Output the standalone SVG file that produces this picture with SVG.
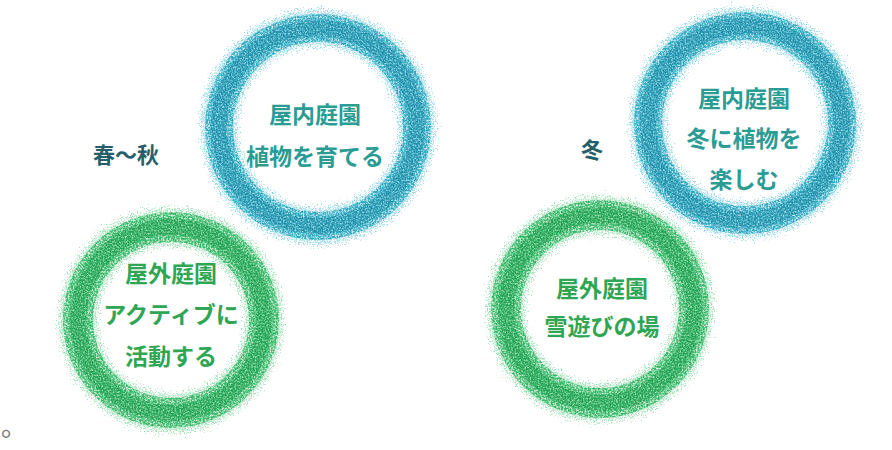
<svg xmlns="http://www.w3.org/2000/svg" width="892" height="450" viewBox="0 0 892 450">
<defs>
<filter id="soft" x="-20%" y="-20%" width="140%" height="140%">
<feTurbulence type="fractalNoise" baseFrequency="0.7" numOctaves="2" seed="4" result="n"/>
<feDisplacementMap in="SourceGraphic" in2="n" scale="22" xChannelSelector="R" yChannelSelector="G" result="d"/>
<feTurbulence type="fractalNoise" baseFrequency="0.8" numOctaves="2" seed="11" result="n2"/>
<feColorMatrix in="n2" type="matrix" values="0 0 0 0 0  0 0 0 0 0  0 0 0 0 0  2.2 0 0 0 -0.6" result="m"/>
<feComposite in="d" in2="m" operator="in"/>
</filter>
<filter id="speck" x="-20%" y="-20%" width="140%" height="140%">
<feTurbulence type="fractalNoise" baseFrequency="1.0" numOctaves="2" seed="7" result="n"/>
<feDisplacementMap in="SourceGraphic" in2="n" scale="14" xChannelSelector="G" yChannelSelector="R" result="d"/>
<feTurbulence type="fractalNoise" baseFrequency="0.6" numOctaves="3" seed="23" result="n2"/>
<feColorMatrix in="n2" type="matrix" values="0 0 0 0 0  0 0 0 0 0  0 0 0 0 0  3 0 0 0 -0.9" result="m"/>
<feComposite in="d" in2="m" operator="in"/>
</filter>
<filter id="core" x="-20%" y="-20%" width="140%" height="140%">
<feTurbulence type="fractalNoise" baseFrequency="0.9" numOctaves="2" seed="2" result="n"/>
<feDisplacementMap in="SourceGraphic" in2="n" scale="12" xChannelSelector="R" yChannelSelector="G"/>
<feGaussianBlur stdDeviation="0.7"/>
</filter>
</defs>
<style>
.t{font-family:"Noto Sans CJK JP","Noto Sans CJK SC",sans-serif;font-weight:700;text-anchor:middle;dominant-baseline:central}
.tb{fill:#2a9c94;font-size:23px}
.tg{fill:#2ea653;font-size:23px}
.lab{fill:#245f6a;font-size:22px}
.rb0{fill:none;stroke:#86d4e2;stroke-width:36}
.rbc{fill:none;stroke:#3aaec6;stroke-width:18;opacity:.5}
.rb1{fill:none;stroke:#2ea8c2;stroke-width:28}
.rb2{fill:none;stroke:#1a859f;stroke-width:16;opacity:.6}
.rg0{fill:none;stroke:#93dfad;stroke-width:38}
.rgc{fill:none;stroke:#3cb96a;stroke-width:18;opacity:.5}
.rg1{fill:none;stroke:#35b766;stroke-width:30}
.rg2{fill:none;stroke:#1b984e;stroke-width:16;opacity:.6}
</style>
<rect width="892" height="450" fill="#ffffff"/>
<g id="indoor-spring">
<circle class="rb0" cx="318" cy="127" r="99" filter="url(#soft)"/>
<circle class="rbc" cx="318" cy="127" r="99" filter="url(#core)"/>
<circle class="rb1" cx="318" cy="127" r="99" filter="url(#speck)"/>
<circle class="rb2" cx="318" cy="127" r="99" filter="url(#speck)"/>
<text class="t tb" x="315" y="113">屋内庭園</text>
<text class="t tb" x="315" y="155">植物を育てる</text>
</g>
<g id="outdoor-spring">
<circle class="rg0" cx="171" cy="320" r="93" filter="url(#soft)"/>
<circle class="rgc" cx="171" cy="320" r="93" filter="url(#core)"/>
<circle class="rg1" cx="171" cy="320" r="93" filter="url(#speck)"/>
<circle class="rg2" cx="171" cy="320" r="93" filter="url(#speck)"/>
<text class="t tg" x="171" y="272">屋外庭園</text>
<text class="t tg" x="171" y="313">アクティブに</text>
<text class="t tg" x="171" y="355">活動する</text>
</g>
<g id="indoor-winter">
<circle class="rb0" cx="745" cy="123" r="97" filter="url(#soft)"/>
<circle class="rbc" cx="745" cy="123" r="97" filter="url(#core)"/>
<circle class="rb1" cx="745" cy="123" r="97" filter="url(#speck)"/>
<circle class="rb2" cx="745" cy="123" r="97" filter="url(#speck)"/>
<text class="t tb" x="744" y="97">屋内庭園</text>
<text class="t tb" x="744" y="137">冬に植物を</text>
<text class="t tb" x="744" y="178">楽しむ</text>
</g>
<g id="outdoor-winter">
<circle class="rg0" cx="600" cy="309" r="94" filter="url(#soft)"/>
<circle class="rgc" cx="600" cy="309" r="94" filter="url(#core)"/>
<circle class="rg1" cx="600" cy="309" r="94" filter="url(#speck)"/>
<circle class="rg2" cx="600" cy="309" r="94" filter="url(#speck)"/>
<text class="t tg" x="602" y="287">屋外庭園</text>
<text class="t tg" x="602" y="325">雪遊びの場</text>
</g>
<g id="labels">
<text class="t lab" x="126" y="153">春〜秋</text>
<text class="t lab" x="592" y="148">冬</text>
<text x="1" y="436" style="font-family:'Noto Sans CJK JP',sans-serif;font-size:26px;fill:#777777">。</text>
</g>
</svg>
